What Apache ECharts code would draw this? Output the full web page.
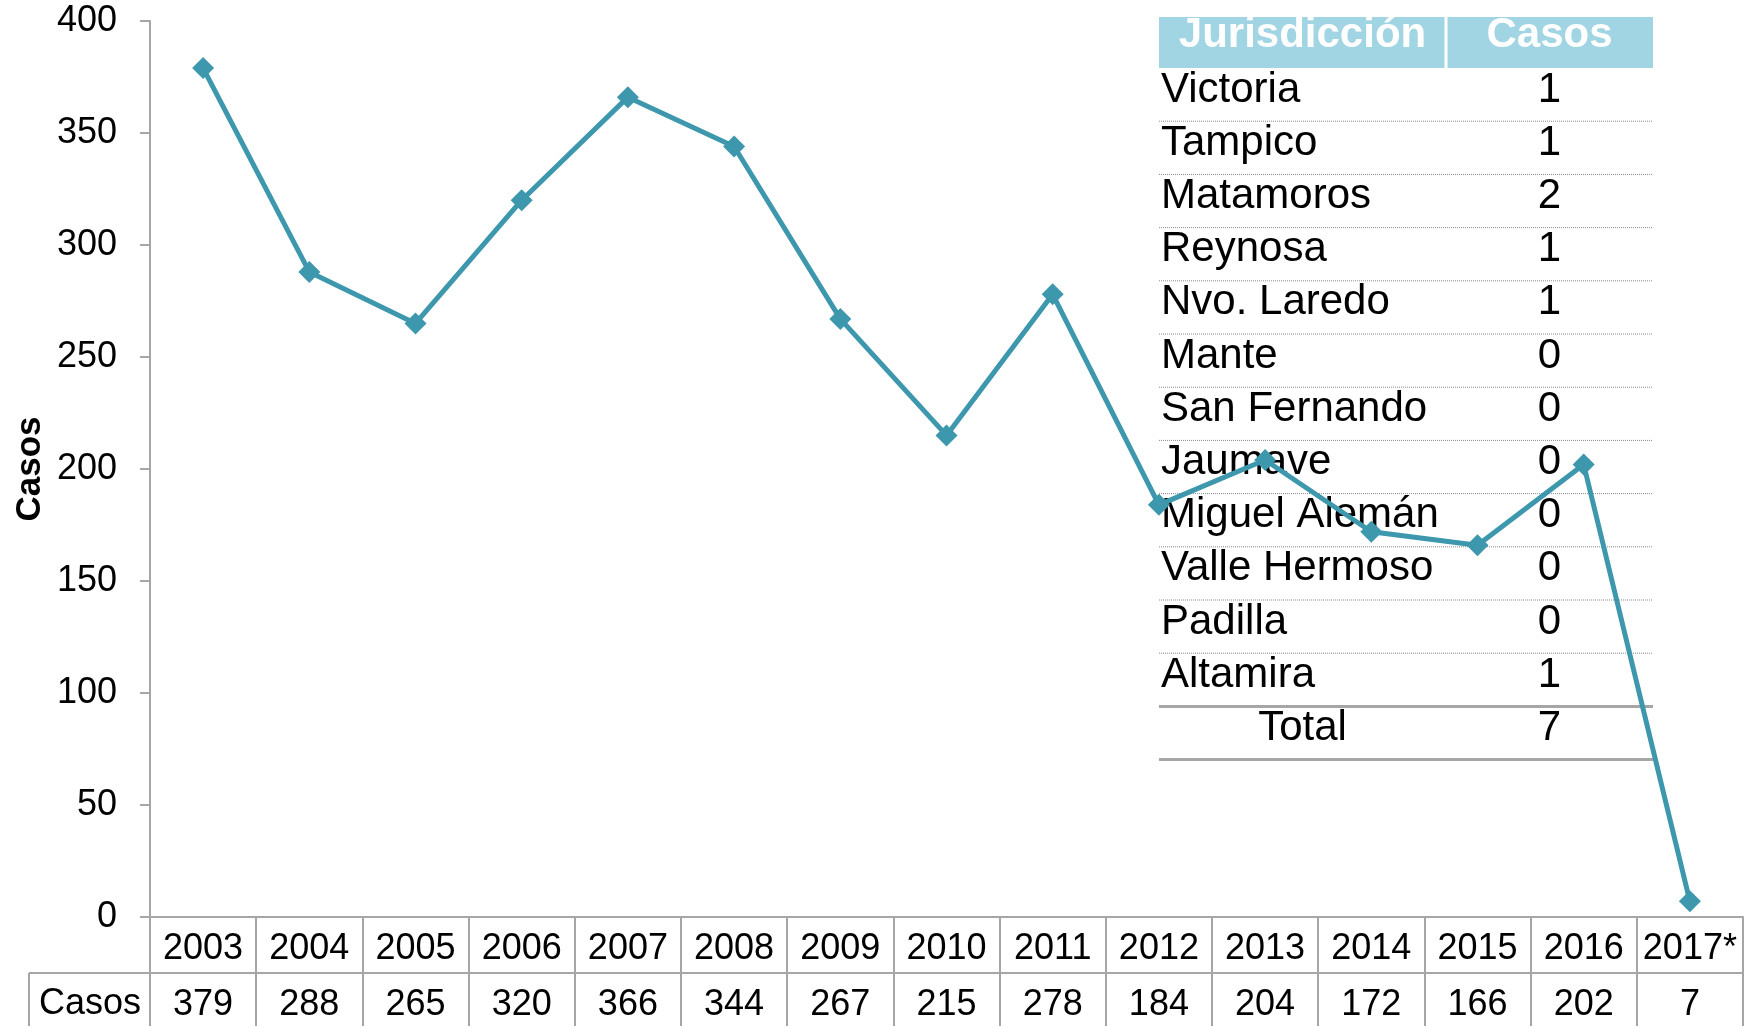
<!DOCTYPE html>
<html>
<head>
<meta charset="utf-8">
<script src="https://cdn.jsdelivr.net/npm/echarts@6/dist/echarts.min.js"></script>
<style>
html,body{margin:0;padding:0;background:#fff;}
#main{width:1754px;height:1026px;}
</style>
</head>
<body>
<div id="main"></div>
<script>
// ---- Data ----
var years = ['2003','2004','2005','2006','2007','2008','2009','2010','2011','2012','2013','2014','2015','2016','2017*'];
var casos = [379, 288, 265, 320, 366, 344, 267, 215, 278, 184, 204, 172, 166, 202, 7];
var yTicks = {min: 0, max: 400, interval: 50};
var jurisdicciones = ['Victoria','Tampico','Matamoros','Reynosa','Nvo. Laredo','Mante','San Fernando','Jaumave','Miguel Alemán','Valle Hermoso','Padilla','Altamira'];
var jurCasos = [1, 1, 2, 1, 1, 0, 0, 0, 0, 0, 0, 1];
var jurTotal = 7;
var tableHeader = ['Jurisdicción', 'Casos'];
var rowLabel = 'Casos';
var totalLabel = 'Total';

// ---- Styles ----
var FONT = '"Liberation Sans", Arial, Helvetica, sans-serif';
var GRAY = '#A6A6A6';
var LINE = '#3D97AD';
var HEAD = '#A2D5E3';

var chart = echarts.init(document.getElementById('main'), null, {renderer: 'canvas'});

// Jurisdiction table graphics
var tx0 = 1159, tx1 = 1653, tsplit = 1446;
var hTop = 17, hH = 51, rowH = 53.2;
var c1 = (tx0 + tsplit) / 2, c2 = (tsplit + tx1) / 2;
var g = [];
g.push({type: 'rect', shape: {x: tx0, y: hTop, width: tx1 - tx0, height: hH}, style: {fill: HEAD}});
g.push({type: 'line', shape: {x1: tsplit, y1: hTop, x2: tsplit, y2: hTop + hH}, style: {stroke: '#fff', lineWidth: 3}});
g.push({type: 'text', x: c1, y: hTop + 18, style: {text: tableHeader[0], fill: '#fff', font: 'bold 42px ' + FONT, textAlign: 'center', textVerticalAlign: 'middle'}});
g.push({type: 'text', x: c2, y: hTop + 18, style: {text: tableHeader[1], fill: '#fff', font: 'bold 42px ' + FONT, textAlign: 'center', textVerticalAlign: 'middle'}});
var bodyTop = hTop + hH;
for (var i = 0; i < jurisdicciones.length; i++) {
  var ry = bodyTop + i * rowH;
  g.push({type: 'text', x: tx0 + 2, y: ry + 22, style: {text: jurisdicciones[i], fill: '#000', font: '42px ' + FONT, textAlign: 'left', textVerticalAlign: 'middle'}});
  g.push({type: 'text', x: c2, y: ry + 22, style: {text: String(jurCasos[i]), fill: '#000', font: '42px ' + FONT, textAlign: 'center', textVerticalAlign: 'middle'}});
  if (i < jurisdicciones.length - 1) {
    g.push({type: 'line', shape: {x1: tx0, y1: ry + rowH, x2: tx1, y2: ry + rowH}, style: {stroke: '#8c8c8c', lineWidth: 1, lineDash: [1, 1]}});
  }
}
var totTop = bodyTop + jurisdicciones.length * rowH;
g.push({type: 'line', shape: {x1: tx0, y1: totTop, x2: tx1, y2: totTop}, style: {stroke: GRAY, lineWidth: 3}});
g.push({type: 'text', x: c1, y: totTop + 22, style: {text: totalLabel, fill: '#000', font: '42px ' + FONT, textAlign: 'center', textVerticalAlign: 'middle'}});
g.push({type: 'text', x: c2, y: totTop + 22, style: {text: String(jurTotal), fill: '#000', font: '42px ' + FONT, textAlign: 'center', textVerticalAlign: 'middle'}});
g.push({type: 'line', shape: {x1: tx0, y1: totTop + rowH, x2: tx1, y2: totTop + rowH}, style: {stroke: GRAY, lineWidth: 3}});

// Data table "Casos" label cell
g.push({type: 'line', shape: {x1: 29, y1: 973, x2: 150, y2: 973}, style: {stroke: GRAY, lineWidth: 2}});
g.push({type: 'line', shape: {x1: 29, y1: 973, x2: 29, y2: 1026}, style: {stroke: GRAY, lineWidth: 2}});
g.push({type: 'text', x: 90, y: 986, style: {text: rowLabel, fill: '#000', font: '36px ' + FONT, textAlign: 'center', textVerticalAlign: 'top'}});

var option = {
  backgroundColor: '#fff',
  animation: false,
  grid: {left: 150, right: 11, top: 21, bottom: 109, containLabel: false, outerBoundsMode: 'none'},
  xAxis: [{
    type: 'category',
    data: years,
    position: 'bottom',
    boundaryGap: true,
    axisLine: {show: true, lineStyle: {color: GRAY, width: 2}},
    axisTick: {show: true, interval: 0, length: 56, lineStyle: {color: GRAY, width: 2}},
    axisLabel: {interval: 0, fontSize: 36, color: '#000', fontFamily: FONT, margin: 14},
    splitLine: {show: false}
  }, {
    type: 'category',
    data: casos.map(String),
    position: 'bottom',
    offset: 56,
    boundaryGap: true,
    axisLine: {show: true, lineStyle: {color: GRAY, width: 2}},
    axisTick: {show: true, interval: 0, length: 53, lineStyle: {color: GRAY, width: 2}},
    axisLabel: {interval: 0, fontSize: 36, color: '#000', fontFamily: FONT, margin: 14},
    splitLine: {show: false}
  }],
  yAxis: {
    type: 'value',
    min: yTicks.min, max: yTicks.max, interval: yTicks.interval,
    name: 'Casos',
    nameLocation: 'middle',
    nameGap: 102,
    nameRotate: 90,
    nameMoveOverlap: false,
    nameTextStyle: {fontSize: 35, fontWeight: 'bold', color: '#000', fontFamily: FONT},
    axisLine: {show: true, lineStyle: {color: GRAY, width: 2}},
    axisTick: {show: true, length: 10, lineStyle: {color: GRAY, width: 2}},
    axisLabel: {fontSize: 36, color: '#000', fontFamily: FONT, margin: 33},
    splitLine: {show: false}
  },
  graphic: {elements: g},
  series: [{
    type: 'line',
    data: casos,
    xAxisIndex: 0,
    symbol: 'diamond',
    symbolSize: 22,
    showAllSymbol: true,
    lineStyle: {color: LINE, width: 5},
    itemStyle: {color: LINE},
    z: 10
  }]
};
chart.setOption(option);
</script>
</body>
</html>
